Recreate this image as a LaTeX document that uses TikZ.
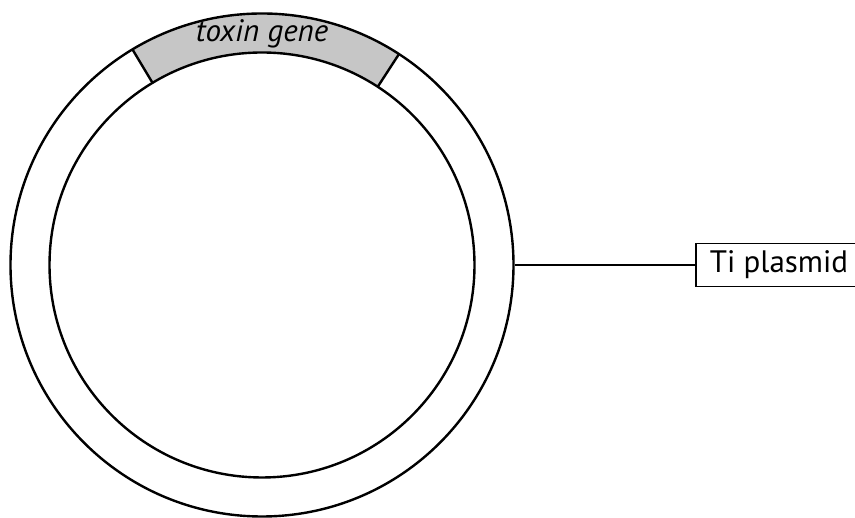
\documentclass[tikz,border=0pt]{standalone}
\usepackage{fontspec}
\setmainfont{PT Sans}
\usetikzlibrary{positioning,calc}

\begin{document}
\begin{tikzpicture}[x=1pt,y=1pt,line width=2.4pt,
  ring/.style={draw,circle,inner sep=0pt},
  labelbox/.style={draw,line width=1.8pt,anchor=west,inner xsep=14pt,minimum height=43pt,font=\fontsize{31}{34}\selectfont}]
\useasboundingbox (0,0) rectangle (855,518);
\coordinate (c) at (262,253);
% gene segment
\fill[gray!45] ($(c)+(57:251.5pt)$) arc (57:121:251.5pt) -- ($(c)+(121:212.5pt)$) arc (121:57:212.5pt) -- cycle;
\draw ($(c)+(57:251.5pt)$) -- ($(c)+(57:212.5pt)$);
\draw ($(c)+(121:251.5pt)$) -- ($(c)+(121:212.5pt)$);
\node[ring,minimum size=503pt] (outer) at (c) {};
\node[ring,minimum size=425pt] (inner) at (c) {};
\node[anchor=base,font=\fontsize{31}{34}\selectfont\itshape] (toxin) at (262,476) {toxin gene};
\node[labelbox] (tiplasmid) at (695,253) {Ti plasmid};
\draw[line width=1.8pt] (outer.east) -- (tiplasmid.west);
\end{tikzpicture}
\end{document}
